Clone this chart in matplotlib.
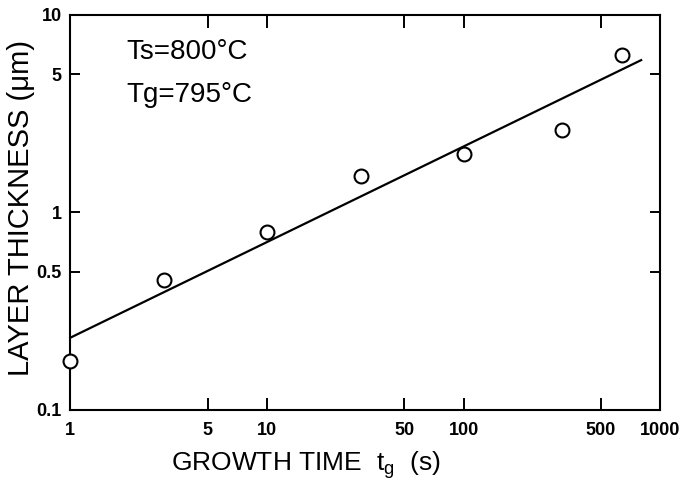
import matplotlib
matplotlib.use("Agg")
import matplotlib.pyplot as plt
from matplotlib.ticker import FixedLocator, FixedFormatter, NullLocator

# Measured layer thickness vs growth time
growth_time = [1, 3, 10, 30, 100, 315, 640]
thickness = [0.177, 0.457, 0.80, 1.52, 1.97, 2.62, 6.3]

# Fitted power-law line end points
fit_time = [1, 800]
fit_thickness = [0.232, 5.9]

x_ticks = [1, 5, 10, 50, 100, 500, 1000]
x_tick_labels = ["1", "5", "10", "50", "100", "500", "1000"]
y_ticks = [0.1, 0.5, 1, 5, 10]
y_tick_labels = ["0.1", "0.5", "1", "5", "10"]

plt.rcParams["font.family"] = ["Liberation Sans", "DejaVu Sans"]

fig = plt.figure(figsize=(6.82, 4.80), dpi=100)
ax = fig.add_axes([0.103, 0.146, 0.865, 0.823])

ax.set_xscale("log")
ax.set_yscale("log")
ax.set_xlim(1, 1000)
ax.set_ylim(0.1, 10)

ax.plot(fit_time, fit_thickness, color="black", lw=1.6, clip_on=False)
ax.plot(growth_time, thickness, linestyle="none", marker="o", ms=10,
        mfc="white", mec="black", mew=1.5, clip_on=False, zorder=3)

ax.xaxis.set_major_locator(FixedLocator(x_ticks))
ax.xaxis.set_major_formatter(FixedFormatter(x_tick_labels))
ax.xaxis.set_minor_locator(NullLocator())
ax.yaxis.set_major_locator(FixedLocator(y_ticks))
ax.yaxis.set_major_formatter(FixedFormatter(y_tick_labels))
ax.yaxis.set_minor_locator(NullLocator())

ax.tick_params(axis="both", which="major", direction="in", top=True, right=True,
               width=1.4, labelsize=13)
ax.tick_params(axis="x", length=9, pad=9)
ax.tick_params(axis="y", length=7, pad=6)
for lbl in ax.get_xticklabels() + ax.get_yticklabels():
    lbl.set_fontweight("bold")

for sp in ax.spines.values():
    sp.set_linewidth(1.5)

ax.set_xlabel(r"GROWTH TIME  t$_\mathregular{g}$  (s)", fontsize=19)
ax.xaxis.set_label_coords(0.40, -0.10)
ax.set_ylabel("LAYER THICKNESS (\u03bcm)", fontsize=21)
ax.yaxis.set_label_coords(-0.06, 0.51)

ax.text(0.095, 0.94, "Ts=800\u00b0C", transform=ax.transAxes, fontsize=20,
        va="top", ha="left")
ax.text(0.095, 0.83, "Tg=795\u00b0C", transform=ax.transAxes, fontsize=20,
        va="top", ha="left")

fig.savefig("out.png", dpi=100)
